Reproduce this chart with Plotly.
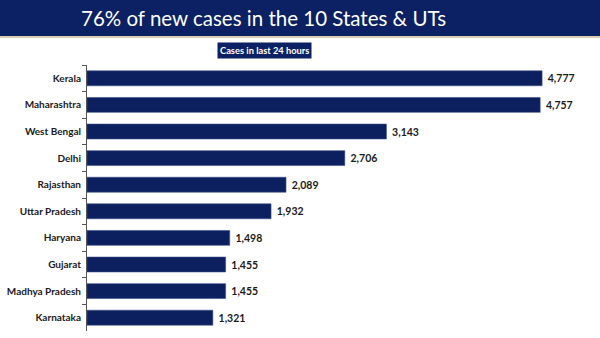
import plotly.graph_objects as go

states = ["Kerala", "Maharashtra", "West Bengal", "Delhi", "Rajasthan",
          "Uttar Pradesh", "Haryana", "Gujarat", "Madhya Pradesh", "Karnataka"]
cases = [4777, 4757, 3143, 2706, 2089, 1932, 1498, 1455, 1455, 1321]
title_text = "76% of new cases in the 10 States & UTs"
subtitle_text = "Cases in last 24 hours"

W, H = 600, 338
ML, MR, MT, MB = 87, 10, 65, 7
PW, PH = W - ML - MR, H - MT - MB

def px(x):
    return (x - ML) / PW

def py(y):
    return (H - MB - y) / PH

NAVY = "#0b2163"
BAR = "#0c1f5e"

fig = go.Figure(go.Bar(
    y=states, x=cases, orientation="h",
    marker=dict(color=BAR, line=dict(color="#3a4f8a", width=0.6)),
    texttemplate="&nbsp;<b>%{x:,}</b>", textposition="outside",
    textfont=dict(family="Lato", size=10.5, color="#1a1a1a"),
    cliponaxis=False,
))

fig.update_layout(
    width=W, height=H,
    margin=dict(l=ML, r=MR, t=MT, b=MB),
    paper_bgcolor="white", plot_bgcolor="white",
    bargap=0.44, showlegend=False,
    xaxis=dict(range=[0, 5280], visible=False),
    yaxis=dict(autorange="reversed", showline=True, linecolor="#555",
               linewidth=1, ticks="outside", tickson="boundaries",
               ticklen=4, tickcolor="#555", ticklabelstandoff=3,
               tickfont=dict(family="Lato", size=10, color="#1a1a1a", weight="bold")),
    shapes=[
        dict(type="rect", xref="paper", yref="paper", x0=px(0), x1=px(W),
             y0=py(36), y1=py(0), fillcolor=NAVY, line=dict(width=0), layer="below"),
        dict(type="line", xref="paper", yref="paper", x0=px(0), x1=px(W),
             y0=py(37), y1=py(37), line=dict(color="#cdbb95", width=1.5)),
    ],
    annotations=[
        dict(text=title_text, xref="paper", yref="paper", x=px(263), y=py(18),
             showarrow=False, xanchor="center", yanchor="middle",
             font=dict(family="Lato", size=20.5, color="white")),
        dict(text="<b>" + subtitle_text + "</b>", xref="paper", yref="paper",
             x=px(264), y=py(50.5), showarrow=False, xanchor="center", yanchor="middle",
             bgcolor=NAVY, borderpad=2,
             font=dict(family="Lato", size=9.3, color="white")),
    ],
)

fig.write_html("out.html")
